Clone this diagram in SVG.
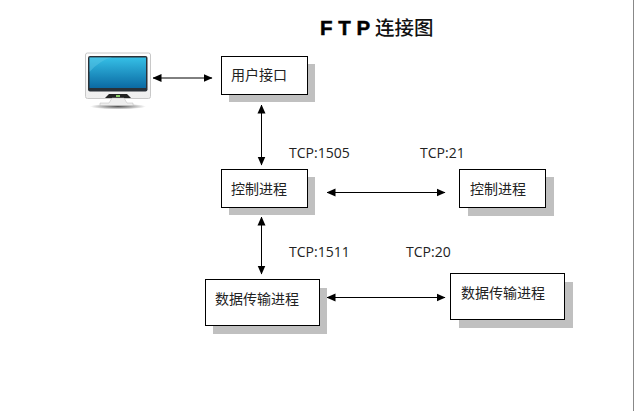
<svg xmlns="http://www.w3.org/2000/svg" width="634" height="411" viewBox="0 0 634 411">
<style>
.box{fill:#fff;stroke:#000;stroke-width:1}
.sh{fill:#c0c0c0}
.t{font-family:"Noto Sans CJK SC","Liberation Sans",sans-serif;font-size:14px;fill:#222}
.l{font-family:"Open Sans","Noto Sans",sans-serif;font-size:14px;fill:#222}
.c{stroke:#000;stroke-width:1;fill:none;marker-start:url(#a);marker-end:url(#a)}
</style>
<defs>
<marker id="a" viewBox="0 0 9 9" refX="8.500" refY="4.500" markerWidth="9" markerHeight="9" markerUnits="userSpaceOnUse" orient="auto-start-reverse"><path d="M0 0.500L9 4.500L0 8.500z" fill="#000"/></marker>
<linearGradient id="scr" x1="0" y1="0" x2="0" y2="1"><stop offset="0" stop-color="#35bfe6"/><stop offset="1" stop-color="#0b6aa3"/></linearGradient>
<linearGradient id="bez" x1="0" y1="0" x2="0" y2="1"><stop offset="0" stop-color="#fff"/><stop offset="1" stop-color="#eee"/></linearGradient>
<radialGradient id="gs"><stop offset="0" stop-color="#555"/><stop offset="1" stop-color="#fff"/></radialGradient>
</defs>
<rect width="634" height="411" fill="#fff"/>
<rect x="633" y="0" width="1" height="411" fill="#888"/>
<text x="320" y="35" font-family="'Liberation Sans',sans-serif" font-size="20.500" font-weight="bold" fill="#000" stroke="#000" stroke-width=".5">F T P</text>
<text x="375" y="35" font-family="'Noto Sans CJK SC',sans-serif" font-size="19.500" font-weight="500" fill="#111">连接图</text>
<g id="computer">
<ellipse cx="118" cy="106.500" rx="28" ry="3" fill="url(#gs)"/>
<rect x="85.500" y="53" width="65" height="45.500" rx="2" fill="url(#bez)" stroke="#c8c8c8"/>
<rect x="88" y="56" width="59.500" height="35.500" rx="2" fill="#2a3138"/>
<rect x="89.500" y="57.500" width="56.500" height="30.500" fill="url(#scr)"/>
<path d="M89.500 72Q100 60 112 57.500L89.500 57.500z" fill="#5fc8e6" opacity=".45"/>
<path d="M105 98L109 94H127L131 98z" fill="#222"/>
<path d="M112 98H124L127 103H133V105.500H100V103H109z" fill="#eee" stroke="#bbb" stroke-width=".5"/>
<rect x="116" y="95" width="4" height="2" fill="#8c6"/>
</g>
<g id="connectors">
<line class="c" x1="153" y1="78" x2="212" y2="78"/>
<line class="c" x1="261.500" y1="105" x2="261.500" y2="165"/>
<line class="c" x1="261.500" y1="217" x2="261.500" y2="274"/>
<line class="c" x1="327" y1="192.500" x2="445" y2="192.500"/>
<line class="c" x1="327" y1="297.500" x2="445" y2="297.500"/>
</g>
<g id="user-if"><rect class="sh" x="229" y="64" width="86" height="38"/><rect class="box" x="221.500" y="56.500" width="86" height="38"/><text class="t" x="231" y="80">用户接口</text></g>
<g id="ctrl-left"><rect class="sh" x="229" y="177" width="86" height="38"/><rect class="box" x="221.500" y="169.500" width="86" height="38"/><text class="t" x="231" y="194">控制进程</text></g>
<g id="ctrl-right"><rect class="sh" x="468" y="177" width="86" height="39"/><rect class="box" x="459.500" y="169.500" width="86" height="38"/><text class="t" x="470" y="194">控制进程</text></g>
<g id="data-left"><rect class="sh" x="213" y="288" width="114" height="46"/><rect class="box" x="205.500" y="279.500" width="114" height="46"/><text class="t" x="215" y="304">数据传输进程</text></g>
<g id="data-right"><rect class="sh" x="459" y="282" width="114" height="46"/><rect class="box" x="450.500" y="273.500" width="114" height="46"/><text class="t" x="461" y="298">数据传输进程</text></g>
<g id="labels">
<text class="l" x="289" y="158">TCP:1505</text>
<text class="l" x="420" y="158">TCP:21</text>
<text class="l" x="289" y="257">TCP:1511</text>
<text class="l" x="406" y="257">TCP:20</text>
</g>
</svg>
